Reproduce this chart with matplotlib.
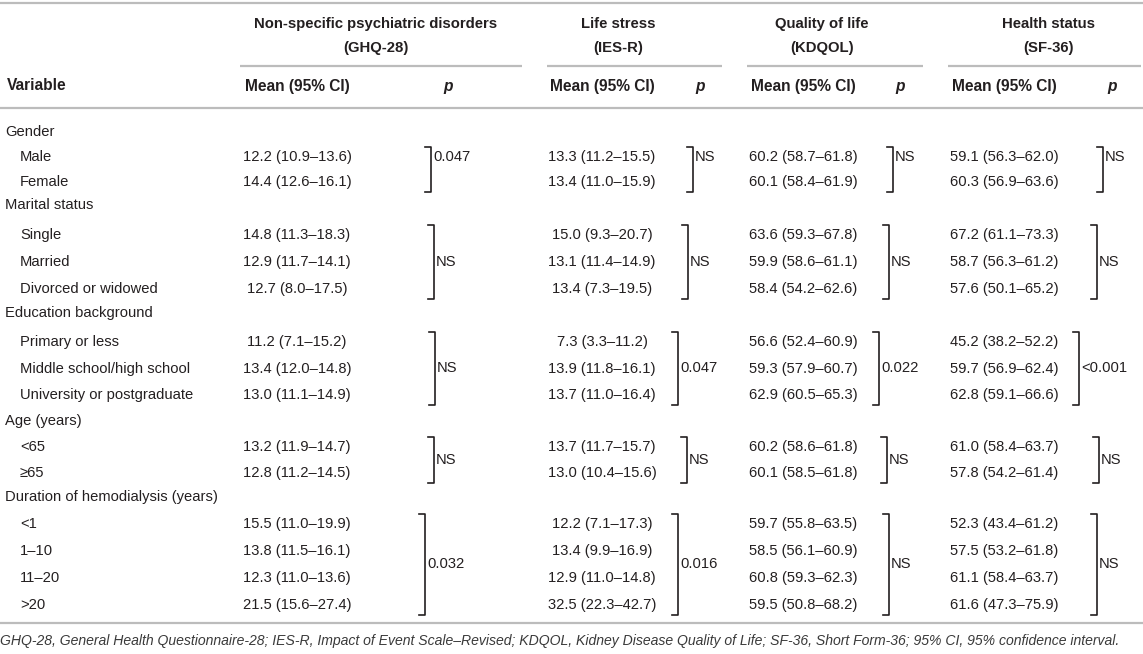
import matplotlib.pyplot as plt

plt.rcParams['font.family'] = ['Liberation Sans', 'DejaVu Sans']

# ---- data ----
groups = ["Gender", "Marital status", "Education background", "Age (years)",
          "Duration of hemodialysis (years)"]
levels = [["Male", "Female"],
          ["Single", "Married", "Divorced or widowed"],
          ["Primary or less", "Middle school/high school", "University or postgraduate"],
          ["<65", "\u226565"],
          ["<1", "1\u201310", "11\u201320", ">20"]]

ghq_mean = [12.2, 14.4, 14.8, 12.9, 12.7, 11.2, 13.4, 13.0, 13.2, 12.8, 15.5, 13.8, 12.3, 21.5]
ghq_lo = [10.9, 12.6, 11.3, 11.7, 8.0, 7.1, 12.0, 11.1, 11.9, 11.2, 11.0, 11.5, 11.0, 15.6]
ghq_hi = [13.6, 16.1, 18.3, 14.1, 17.5, 15.2, 14.8, 14.9, 14.7, 14.5, 19.9, 16.1, 13.6, 27.4]
ghq_p = ["0.047", "NS", "NS", "NS", "0.032"]

ies_mean = [13.3, 13.4, 15.0, 13.1, 13.4, 7.3, 13.9, 13.7, 13.7, 13.0, 12.2, 13.4, 12.9, 32.5]
ies_lo = [11.2, 11.0, 9.3, 11.4, 7.3, 3.3, 11.8, 11.0, 11.7, 10.4, 7.1, 9.9, 11.0, 22.3]
ies_hi = [15.5, 15.9, 20.7, 14.9, 19.5, 11.2, 16.1, 16.4, 15.7, 15.6, 17.3, 16.9, 14.8, 42.7]
ies_p = ["NS", "NS", "0.047", "NS", "0.016"]

kdq_mean = [60.2, 60.1, 63.6, 59.9, 58.4, 56.6, 59.3, 62.9, 60.2, 60.1, 59.7, 58.5, 60.8, 59.5]
kdq_lo = [58.7, 58.4, 59.3, 58.6, 54.2, 52.4, 57.9, 60.5, 58.6, 58.5, 55.8, 56.1, 59.3, 50.8]
kdq_hi = [61.8, 61.9, 67.8, 61.1, 62.6, 60.9, 60.7, 65.3, 61.8, 61.8, 63.5, 60.9, 62.3, 68.2]
kdq_p = ["NS", "NS", "0.022", "NS", "NS"]

sf_mean = [59.1, 60.3, 67.2, 58.7, 57.6, 45.2, 59.7, 62.8, 61.0, 57.8, 52.3, 57.5, 61.1, 61.6]
sf_lo = [56.3, 56.9, 61.1, 56.3, 50.1, 38.2, 56.9, 59.1, 58.4, 54.2, 43.4, 53.2, 58.4, 47.3]
sf_hi = [62.0, 63.6, 73.3, 61.2, 65.2, 52.2, 62.4, 66.6, 63.7, 61.4, 61.2, 61.8, 63.7, 75.9]
sf_p = ["NS", "NS", "<0.001", "NS", "NS"]

spanners = [("Non-specific psychiatric disorders", "(GHQ-28)"),
            ("Life stress", "(IES-R)"),
            ("Quality of life", "(KDQOL)"),
            ("Health status", "(SF-36)")]

footnote = ("GHQ-28, General Health Questionnaire-28; IES-R, Impact of Event Scale\u2013Revised; "
            "KDQOL, Kidney Disease Quality of Life; SF-36, Short Form-36; 95% CI, 95% confidence interval.")

# ---- layout (pixels) ----
W, H = 1143, 654
txt = '#231f20'
rule = '#bcbcbc'
fs = 10.6
fs_head = 10.7
fs_mean = 11.2

group_y = [132, 205, 313, 421, 497]
level_y = [[157, 182], [235, 262, 289], [342, 369, 395], [447, 473], [524, 551, 578, 605]]

# mean column centre, p header x, spanner line, spanner text centre, bracket x per group
cols = [dict(mean=ghq_mean, lo=ghq_lo, hi=ghq_hi, p=ghq_p, mx=297, px=448,
             line=(240, 522), cx=376, bx=[431, 434, 435, 434, 425]),
        dict(mean=ies_mean, lo=ies_lo, hi=ies_hi, p=ies_p, mx=602, px=700,
             line=(547, 722), cx=618, bx=[693, 688, 678, 687, 678]),
        dict(mean=kdq_mean, lo=kdq_lo, hi=kdq_hi, p=kdq_p, mx=803, px=900,
             line=(747, 923), cx=822, bx=[893, 889, 879, 887, 889]),
        dict(mean=sf_mean, lo=sf_lo, hi=sf_hi, p=sf_p, mx=1004, px=1112,
             line=(948, 1141), cx=1049, bx=[1103, 1097, 1079, 1099, 1097])]
p_top_group = [True, False, False, False, False]

fig = plt.figure(figsize=(W / 100, H / 100), dpi=100)
ax = fig.add_axes([0, 0, 1, 1])
ax.set_xlim(0, W)
ax.set_ylim(H, 0)
ax.axis('off')

# rules
for yy in [3, 108, 623]:
    ax.plot([0, W], [yy, yy], color=rule, lw=1.6, solid_capstyle='butt')

# header
ax.text(7, 86, "Variable", fontsize=fs_mean, fontweight='bold', color=txt, va='center')
for c, (t1, t2) in zip(cols, spanners):
    ax.text(c['cx'], 24, t1, fontsize=fs_head, fontweight='bold', color=txt, ha='center', va='center')
    ax.text(c['cx'], 48, t2, fontsize=fs_head, fontweight='bold', color=txt, ha='center', va='center')
    ax.plot(c['line'], [66, 66], color=rule, lw=1.6, solid_capstyle='butt')
    ax.text(c['mx'], 86, "Mean (95% CI)", fontsize=fs_mean, fontweight='bold', color=txt,
            ha='center', va='center')
    ax.text(c['px'], 87, "p", fontsize=fs_mean, fontweight='bold', fontstyle='italic',
            color=txt, ha='center', va='center')

# body
k = 0
for g, (gname, levs) in enumerate(zip(groups, levels)):
    ax.text(5, group_y[g], gname, fontsize=fs, color=txt, va='center')
    for j, (lev, y) in enumerate(zip(levs, level_y[g])):
        ax.text(20, y, lev, fontsize=fs, color=txt, va='center')
        i = k + j
        for c in cols:
            s = f"{c['mean'][i]:.1f} ({c['lo'][i]:.1f}\u2013{c['hi'][i]:.1f})"
            ax.text(c['mx'], y, s, fontsize=fs, color=txt, ha='center', va='center')
    ys = level_y[g]
    top, bot = ys[0] - 10, ys[-1] + 10
    for c in cols:
        bx = c['bx'][g]
        ax.plot([bx - 6, bx, bx, bx - 6], [top, top, bot, bot], color=txt, lw=1.2)
        py = ys[0] if p_top_group[g] else (ys[0] + ys[-1]) / 2
        ax.text(bx + 2, py, c['p'][g], fontsize=fs, color=txt, ha='left', va='center')
    k += len(levs)

ax.text(0, 641, footnote, fontsize=10.1, fontstyle='italic', color='#3a3a3a', va='center')

fig.savefig("out.png", dpi=100)
